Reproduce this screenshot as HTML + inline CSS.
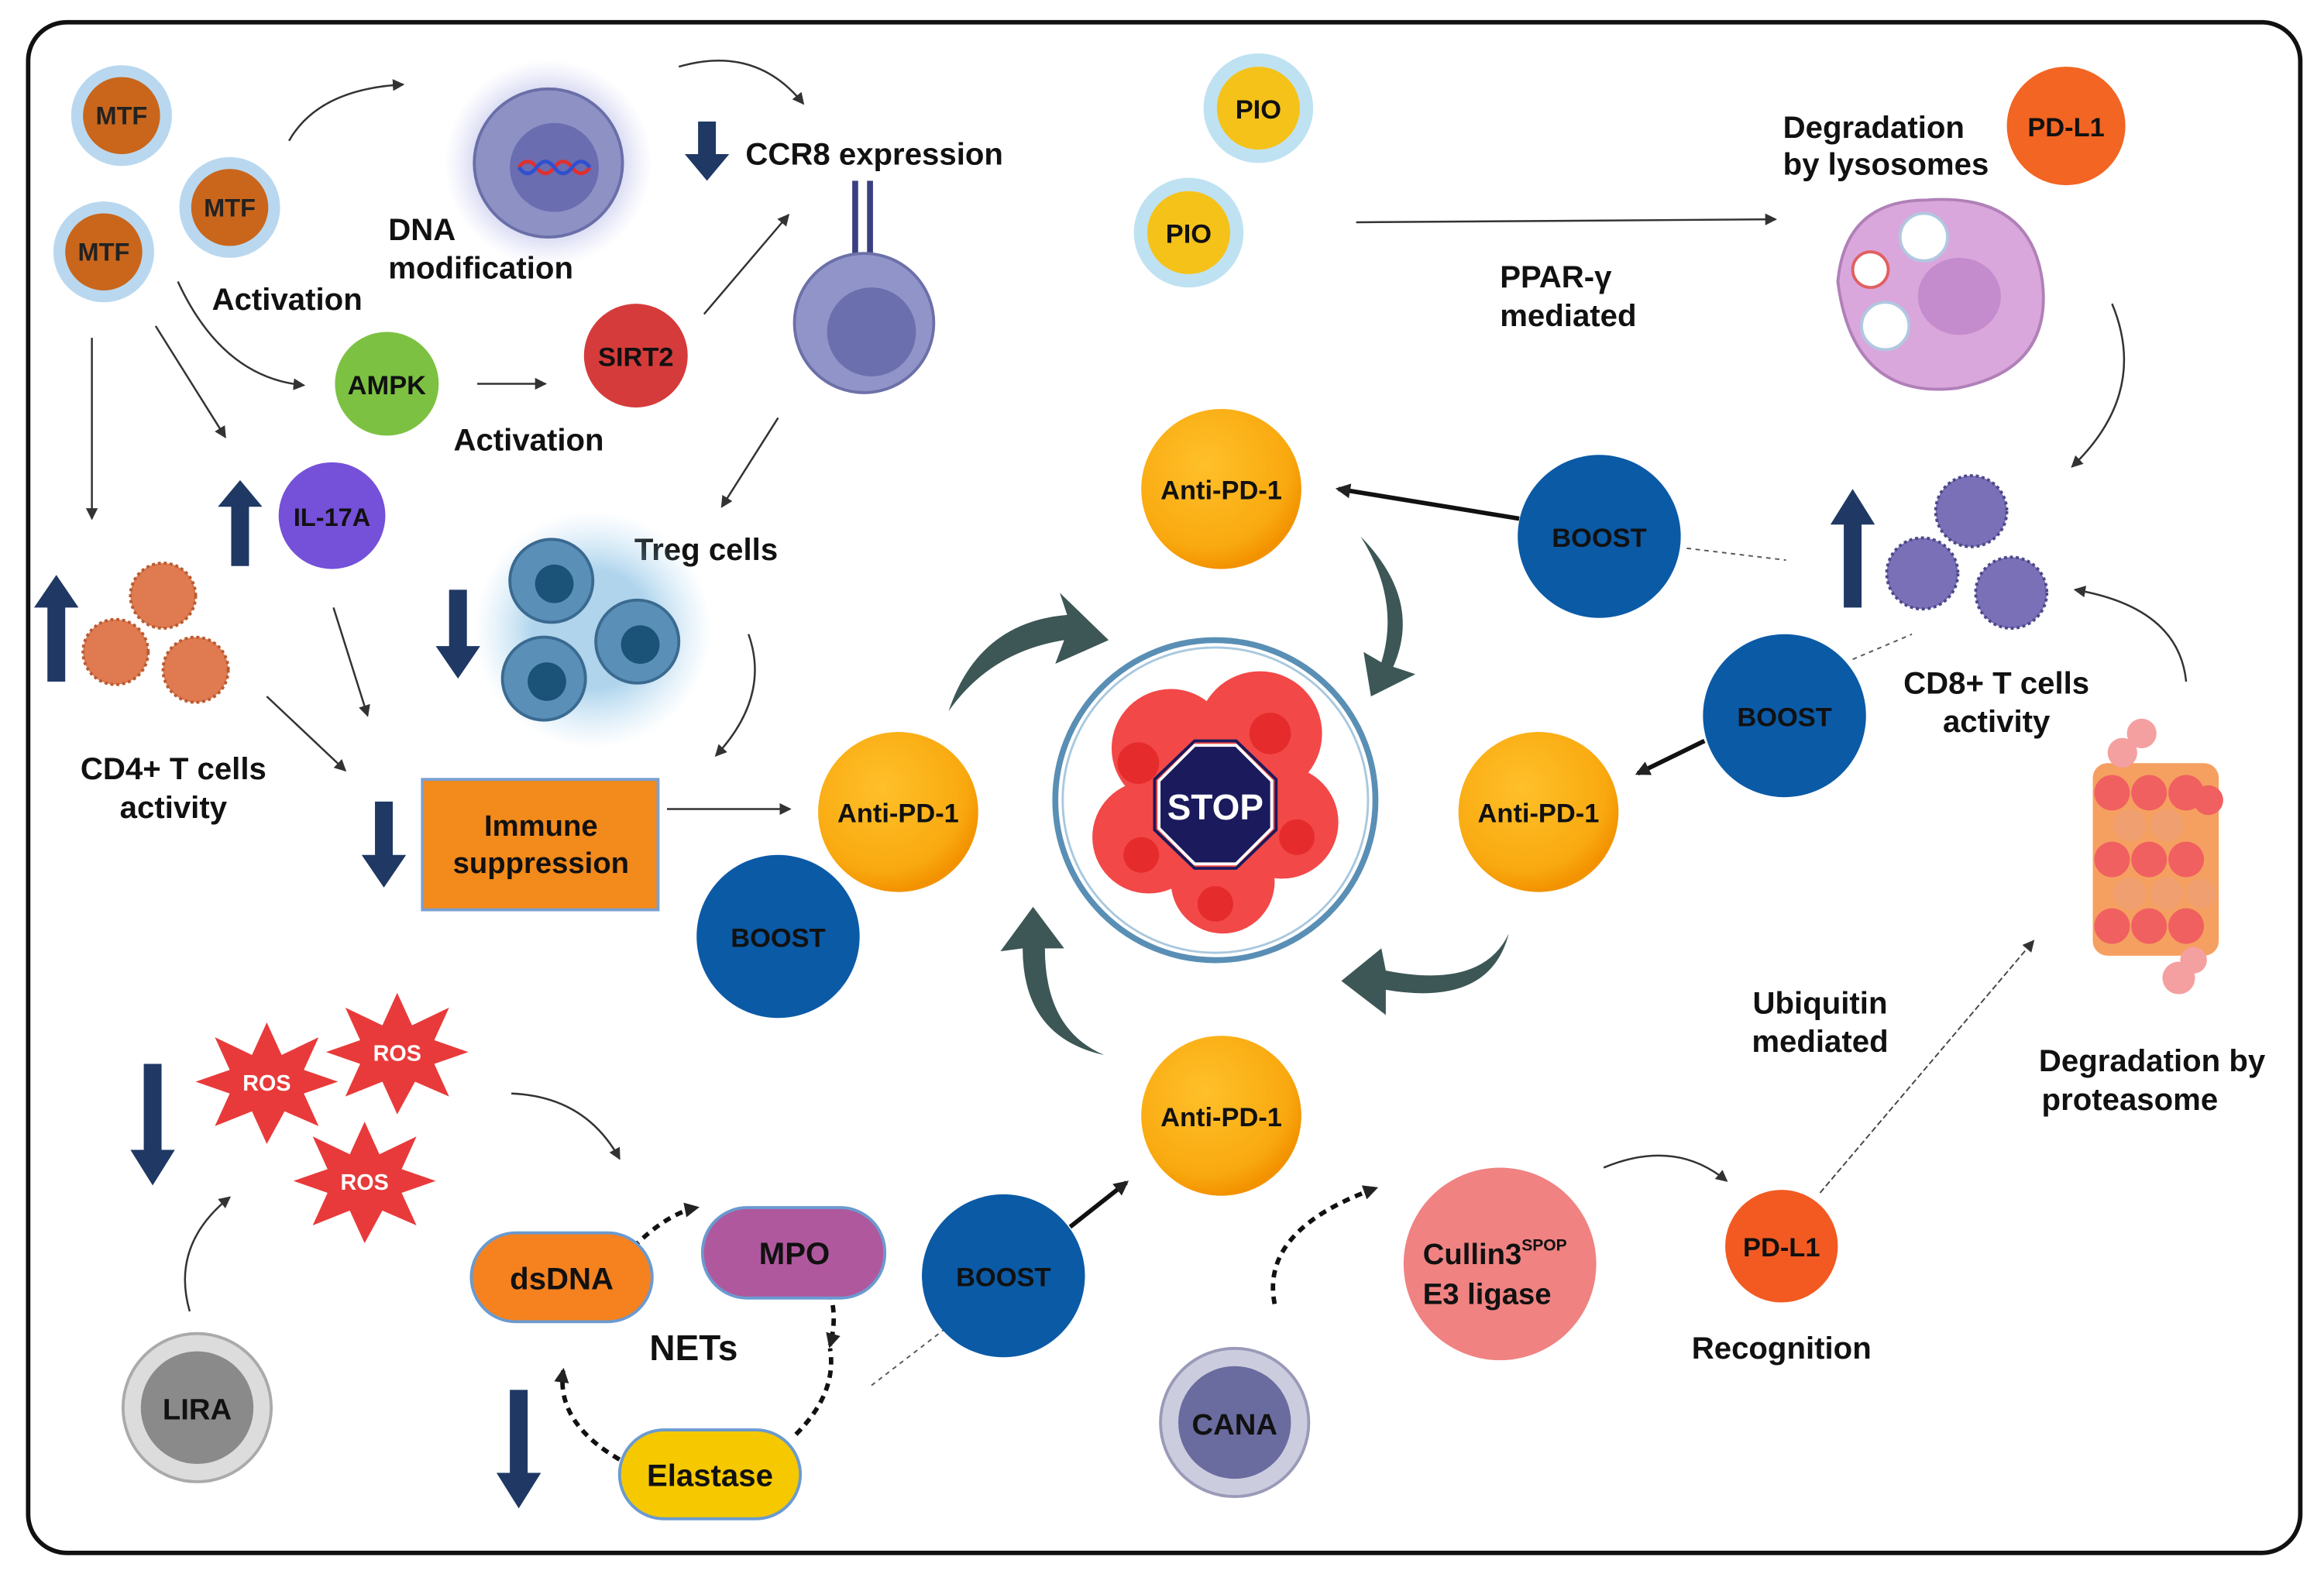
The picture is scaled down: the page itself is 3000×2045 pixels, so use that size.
<!DOCTYPE html>
<html><head><meta charset="utf-8"><style>
html,body{margin:0;padding:0;background:#fff;}
svg{display:block}
text{font-family:"Liberation Sans",sans-serif;font-weight:bold;}
</style></head><body>
<svg width="3000" height="2045" viewBox="0 0 1568 1069" preserveAspectRatio="none" xmlns="http://www.w3.org/2000/svg">
<defs>
<radialGradient id="og" cx="40%" cy="35%" r="65%"><stop offset="0" stop-color="#ffc02a"/><stop offset="0.8" stop-color="#f9a90f"/><stop offset="1" stop-color="#f39200"/></radialGradient>
<radialGradient id="glow"><stop offset="0.6" stop-color="#9fa4dc" stop-opacity="0.6"/><stop offset="1" stop-color="#c0c4f0" stop-opacity="0"/></radialGradient>
<radialGradient id="glow2"><stop offset="0.5" stop-color="#7ab8e0" stop-opacity="0.6"/><stop offset="1" stop-color="#a0d0f0" stop-opacity="0"/></radialGradient>
<marker id="ah" markerWidth="10" markerHeight="10" refX="8" refY="5" orient="auto" markerUnits="userSpaceOnUse"><path d="M0,0 L10,5 L0,10 z" fill="#222"/></marker>
<marker id="ahs" markerWidth="8" markerHeight="8" refX="7" refY="4" orient="auto" markerUnits="userSpaceOnUse"><path d="M0,0 L8,4 L0,8 z" fill="#333"/></marker>
</defs>
<rect x="19" y="15" width="1533" height="1033" rx="26" fill="#fff" stroke="#111" stroke-width="3"/>

<!-- thin arrows -->
<g fill="none" stroke="#333" stroke-width="1.3" marker-end="url(#ahs)">
<path d="M195,95 Q215,60 272,57"/>
<path d="M458,45 Q510,30 542,70"/>
<path d="M120,190 Q150,255 205,260"/>
<path d="M105,220 L152,295"/>
<path d="M62,228 L62,350"/>
<path d="M322,259 L368,259"/>
<path d="M475,212 L532,145"/>
<path d="M525,282 L487,342"/>
<path d="M225,410 L248,483"/>
<path d="M180,470 L233,520"/>
<path d="M505,428 Q520,470 483,510"/>
<path d="M450,546 L533,546"/>
<path d="M915,150 L1198,148"/>
<path d="M1425,205 Q1450,265 1398,315"/>
<path d="M1475,460 Q1470,410 1400,398"/>
<path d="M345,738 Q395,740 418,782"/>
<path d="M128,885 Q115,840 155,808"/>
<path d="M1082,788 Q1130,768 1165,797"/>
</g>
<g fill="none" stroke="#555" stroke-width="1" stroke-dasharray="3,3">
<path d="M1138,370 L1205,378"/><path d="M1250,445 L1290,428"/>
<path d="M588,935 L640,895"/>
</g>
<path d="M1228,805 L1372,635" fill="none" stroke="#444" stroke-width="1" stroke-dasharray="4,2" marker-end="url(#ahs)"/>
<g fill="none" stroke="#111" stroke-width="3" stroke-dasharray="5,4" marker-end="url(#ah)">
<path d="M415,855 Q445,820 470,815"/>
<path d="M560,872 Q565,890 560,908"/>
<path d="M537,968 Q565,940 560,910" marker-end="none"/>
<path d="M418,985 Q375,960 380,925"/>
<path d="M860,880 Q850,830 928,802"/>
</g>
<g stroke="#111" stroke-width="3" fill="none" marker-end="url(#ah)">
<path d="M1025,350 L903,330"/><path d="M1150,500 L1105,522"/><path d="M722,828 L760,798"/>
</g>

<!-- big dark arrows -->
<g fill="#3d5656">
<path d="M640,480 Q660,420 720,415 L715,400 L748,432 L712,448 L718,432 Q668,440 640,480z"/>
<path d="M918,362 Q960,405 940,450 L955,455 L925,470 L920,440 L932,447 Q945,405 918,362z"/>
<path d="M1018,630 Q1005,680 935,668 L935,685 L905,662 L932,640 L935,655 Q1000,668 1018,630z"/>
<path d="M745,712 Q690,700 690,640 L675,642 L697,612 L718,640 L705,640 Q705,695 745,712z"/>
</g>

<!-- vertical navy arrows -->
<g fill="#1f3864">
<path d="M471,82 h12 v22 h9 l-15,18 l-15,-18 h9z"/>
<path d="M156,382 h12 v-40 h9 l-15,-18 l-15,18 h9z"/>
<path d="M32,460 h12 v-50 h9 l-15,-22 l-15,22 h9z"/>
<path d="M303,398 h12 v38 h9 l-15,22 l-15,-22 h9z"/>
<path d="M253,541 h12 v36 h9 l-15,22 l-15,-22 h9z"/>
<path d="M1244,410 h12 v-56 h9 l-15,-24 l-15,24 h9z"/>
<path d="M97,718 h12 v58 h9 l-15,24 l-15,-24 h9z"/>
<path d="M344,938 h12 v56 h9 l-15,24 l-15,-24 h9z"/>
</g>

<!-- MTF -->
<g font-size="17" text-anchor="middle" fill="#222">
<circle cx="82" cy="78" r="34" fill="#b9d8ef"/><circle cx="82" cy="78" r="26" fill="#c9661c"/><text x="82" y="84">MTF</text>
<circle cx="155" cy="140" r="34" fill="#b9d8ef"/><circle cx="155" cy="140" r="26" fill="#c9661c"/><text x="155" y="146">MTF</text>
<circle cx="70" cy="170" r="34" fill="#b9d8ef"/><circle cx="70" cy="170" r="26" fill="#c9661c"/><text x="70" y="176">MTF</text>
</g>
<!-- DNA cell -->
<circle cx="370" cy="110" r="70" fill="url(#glow)"/>
<circle cx="370" cy="110" r="50" fill="#8d91c4" stroke="#6a6ea8" stroke-width="2"/>
<circle cx="374" cy="113" r="30" fill="#6a6db0"/>
<path d="M350,113 q6,-8 12,0 t12,0 t12,0 t12,0" stroke="#e03030" stroke-width="2.5" fill="none"/>
<path d="M350,113 q6,8 12,0 t12,0 t12,0 t12,0" stroke="#3050d0" stroke-width="2.5" fill="none"/>
<!-- receptor cell -->
<rect x="575" y="122" width="4" height="58" fill="#3a3f80"/><rect x="585" y="122" width="4" height="58" fill="#3a3f80"/>
<circle cx="583" cy="218" r="47" fill="#9094c8" stroke="#6c70a8" stroke-width="2"/>
<circle cx="588" cy="224" r="30" fill="#6b6fae"/>

<g font-size="21" fill="#111">
<text x="262" y="162">DNA</text><text x="262" y="188">modification</text>
<text x="143" y="209">Activation</text>
<text x="503" y="111">CCR8 expression</text>
<text x="306" y="304">Activation</text>
<text x="428" y="378">Treg cells</text>
<text x="117" y="526" text-anchor="middle">CD4+ T cells</text><text x="117" y="552" text-anchor="middle">activity</text>
<text x="1012" y="194">PPAR-γ</text><text x="1012" y="220">mediated</text>
<text x="1203" y="93">Degradation</text><text x="1203" y="118">by lysosomes</text>
<text x="1347" y="468" text-anchor="middle">CD8+ T cells</text><text x="1347" y="494" text-anchor="middle">activity</text>
<text x="1228" y="684" text-anchor="middle">Ubiquitin</text><text x="1228" y="710" text-anchor="middle">mediated</text>
<text x="1452" y="723" text-anchor="middle">Degradation by</text><text x="1437" y="749" text-anchor="middle">proteasome</text>
<text x="1202" y="917" text-anchor="middle">Recognition</text>
<text x="468" y="918" text-anchor="middle" font-size="24">NETs</text>
</g>

<circle cx="261" cy="259" r="35" fill="#7dc142"/><text x="261" y="266" font-size="18" text-anchor="middle" fill="#111">AMPK</text>
<circle cx="429" cy="240" r="35" fill="#d53b3b"/><text x="429" y="247" font-size="18" text-anchor="middle" fill="#111">SIRT2</text>
<circle cx="224" cy="348" r="36" fill="#7550d8"/><text x="224" y="355" font-size="17" text-anchor="middle" fill="#111">IL-17A</text>

<g fill="#e07a50" stroke="#b85a30" stroke-width="2" stroke-dasharray="2,2">
<circle cx="110" cy="402" r="22"/><circle cx="78" cy="440" r="22"/><circle cx="132" cy="452" r="22"/></g>
<circle cx="400" cy="425" r="80" fill="url(#glow2)"/>
<g fill="#5a8fb8" stroke="#3a6a90" stroke-width="2">
<circle cx="372" cy="392" r="28"/><circle cx="367" cy="458" r="28"/><circle cx="430" cy="433" r="28"/></g>
<g fill="#1b5277"><circle cx="374" cy="394" r="13"/><circle cx="369" cy="460" r="13"/><circle cx="432" cy="435" r="13"/></g>

<rect x="285" y="526" width="159" height="88" fill="#f28a1c" stroke="#7ba0d0" stroke-width="2"/>
<text x="365" y="564" font-size="20" text-anchor="middle" fill="#111">Immune</text>
<text x="365" y="589" font-size="20" text-anchor="middle" fill="#111">suppression</text>

<!-- center -->
<circle cx="820" cy="540" r="108" fill="#fff" stroke="#5a8fb5" stroke-width="4"/>
<circle cx="820" cy="540" r="103" fill="none" stroke="#a8c8de" stroke-width="1.5"/>
<g fill="#f24848">
<circle cx="790" cy="505" r="40"/><circle cx="850" cy="495" r="42"/><circle cx="865" cy="555" r="38"/>
<circle cx="775" cy="565" r="38"/><circle cx="825" cy="595" r="35"/><circle cx="830" cy="545" r="40"/></g>
<g fill="#e02020" opacity="0.7"><circle cx="857" cy="495" r="14"/><circle cx="768" cy="515" r="14"/><circle cx="820" cy="610" r="12"/><circle cx="875" cy="565" r="12"/><circle cx="770" cy="577" r="12"/></g>
<polygon points="806,503 834,503 858,527 858,559 834,583 806,583 782,559 782,527" fill="#1a1a5c" stroke="#fff" stroke-width="2"/>
<polygon points="806,500 834,500 861,526 861,560 834,586 806,586 779,560 779,526" fill="none" stroke="#1a1a5c" stroke-width="2"/>
<text x="820" y="553" font-size="24" text-anchor="middle" fill="#fff">STOP</text>

<!-- anti-PD-1 -->
<g font-size="18" text-anchor="middle" fill="#111">
<circle cx="606" cy="548" r="54" fill="url(#og)"/><text x="606" y="555">Anti-PD-1</text>
<circle cx="824" cy="330" r="54" fill="url(#og)"/><text x="824" y="337">Anti-PD-1</text>
<circle cx="1038" cy="548" r="54" fill="url(#og)"/><text x="1038" y="555">Anti-PD-1</text>
<circle cx="824" cy="753" r="54" fill="url(#og)"/><text x="824" y="760">Anti-PD-1</text>
</g>
<g font-size="18" text-anchor="middle" fill="#111">
<circle cx="525" cy="632" r="55" fill="#0b5aa6"/><text x="525" y="639">BOOST</text>
<circle cx="1079" cy="362" r="55" fill="#0b5aa6"/><text x="1079" y="369">BOOST</text>
<circle cx="1204" cy="483" r="55" fill="#0b5aa6"/><text x="1204" y="490">BOOST</text>
<circle cx="677" cy="861" r="55" fill="#0b5aa6"/><text x="677" y="868">BOOST</text>
</g>

<!-- PIO -->
<g font-size="18" text-anchor="middle" fill="#111">
<circle cx="849" cy="73" r="37" fill="#bfe2f2"/><circle cx="849" cy="73" r="28" fill="#f5c21a"/><text x="849" y="80">PIO</text>
<circle cx="802" cy="157" r="37" fill="#bfe2f2"/><circle cx="802" cy="157" r="28" fill="#f5c21a"/><text x="802" y="164">PIO</text>
</g>
<circle cx="1394" cy="85" r="40" fill="#f26522"/><text x="1394" y="92" font-size="18" text-anchor="middle" fill="#111">PD-L1</text>
<!-- lysosome cell -->
<path d="M1240,190 Q1245,135 1300,135 Q1370,130 1378,190 Q1385,250 1320,262 Q1250,270 1240,190z" fill="#daa7dc" stroke="#b080b8" stroke-width="2"/>
<ellipse cx="1322" cy="200" rx="28" ry="26" fill="#c48ccc"/>
<circle cx="1298" cy="160" r="16" fill="#fff" stroke="#b0c8e0" stroke-width="2"/>
<circle cx="1262" cy="182" r="12" fill="#fff" stroke="#e06060" stroke-width="2"/>
<circle cx="1272" cy="220" r="16" fill="#fff" stroke="#b0c8e0" stroke-width="2"/>
<!-- CD8 cells -->
<g fill="#7a70b8" stroke="#4a4888" stroke-width="2" stroke-dasharray="2,2">
<circle cx="1330" cy="345" r="24"/><circle cx="1297" cy="387" r="24"/><circle cx="1357" cy="400" r="24"/></g>
<!-- proteasome -->
<g>
<rect x="1412" y="515" width="85" height="130" rx="10" fill="#f5a060"/>
<g fill="#f06060"><circle cx="1425" cy="535" r="12"/><circle cx="1450" cy="535" r="12"/><circle cx="1475" cy="535" r="12"/><circle cx="1490" cy="540" r="10"/>
<circle cx="1425" cy="580" r="12"/><circle cx="1450" cy="580" r="12"/><circle cx="1475" cy="580" r="12"/>
<circle cx="1425" cy="625" r="12"/><circle cx="1450" cy="625" r="12"/><circle cx="1475" cy="625" r="12"/></g>
<g fill="#f0a070"><circle cx="1437" cy="557" r="11"/><circle cx="1462" cy="557" r="11"/><circle cx="1437" cy="603" r="11"/><circle cx="1462" cy="603" r="11"/><circle cx="1485" cy="603" r="10"/></g>
<g fill="#f5a0a0"><circle cx="1445" cy="495" r="10"/><circle cx="1432" cy="508" r="10"/><circle cx="1470" cy="660" r="11"/><circle cx="1480" cy="648" r="9"/></g>
</g>
<circle cx="1202" cy="841" r="38" fill="#f25a22"/><text x="1202" y="848" font-size="18" text-anchor="middle" fill="#111">PD-L1</text>
<circle cx="1012" cy="853" r="65" fill="#f08282"/>
<text x="960" y="853" font-size="20" fill="#111">Cullin3<tspan font-size="11" dy="-9">SPOP</tspan></text>
<text x="960" y="880" font-size="20" fill="#111">E3 ligase</text>
<circle cx="833" cy="960" r="50" fill="#ccccdf" stroke="#9a9ab8" stroke-width="2"/><circle cx="833" cy="960" r="38" fill="#6a6b9e"/>
<text x="833" y="968" font-size="20" text-anchor="middle" fill="#111">CANA</text>
<circle cx="133" cy="950" r="50" fill="#dcdcdc" stroke="#aaa" stroke-width="2"/><circle cx="133" cy="950" r="38" fill="#8a8a8a"/>
<text x="133" y="958" font-size="20" text-anchor="middle" fill="#111">LIRA</text>

<!-- ROS -->
<g fill="#e83a3a">
<polygon points="180,690 190,712 215,700 205,722 228,730 205,738 215,760 192,750 180,772 170,750 145,760 155,738 132,730 155,722 145,700 170,712"/>
<polygon points="268,670 278,692 303,680 293,702 316,710 293,718 303,740 280,730 268,752 258,730 233,740 243,718 220,710 243,702 233,680 258,692"/>
<polygon points="246,757 256,779 281,767 271,789 294,797 271,805 281,827 258,817 246,839 236,817 211,827 221,805 198,797 221,789 211,767 236,779"/>
</g>
<g font-size="15" text-anchor="middle" fill="#fff">
<text x="180" y="736">ROS</text><text x="268" y="716">ROS</text><text x="246" y="803">ROS</text></g>

<rect x="318" y="832" width="122" height="60" rx="30" fill="#f5821f" stroke="#6a9ad0" stroke-width="2"/>
<text x="379" y="870" font-size="21" text-anchor="middle" fill="#111">dsDNA</text>
<rect x="474" y="815" width="123" height="61" rx="30" fill="#b0589e" stroke="#6a9ad0" stroke-width="2"/>
<text x="536" y="853" font-size="21" text-anchor="middle" fill="#111">MPO</text>
<rect x="418" y="965" width="122" height="60" rx="30" fill="#f5c800" stroke="#6a9ad0" stroke-width="2"/>
<text x="479" y="1003" font-size="21" text-anchor="middle" fill="#111">Elastase</text>
</svg>
</body></html>
